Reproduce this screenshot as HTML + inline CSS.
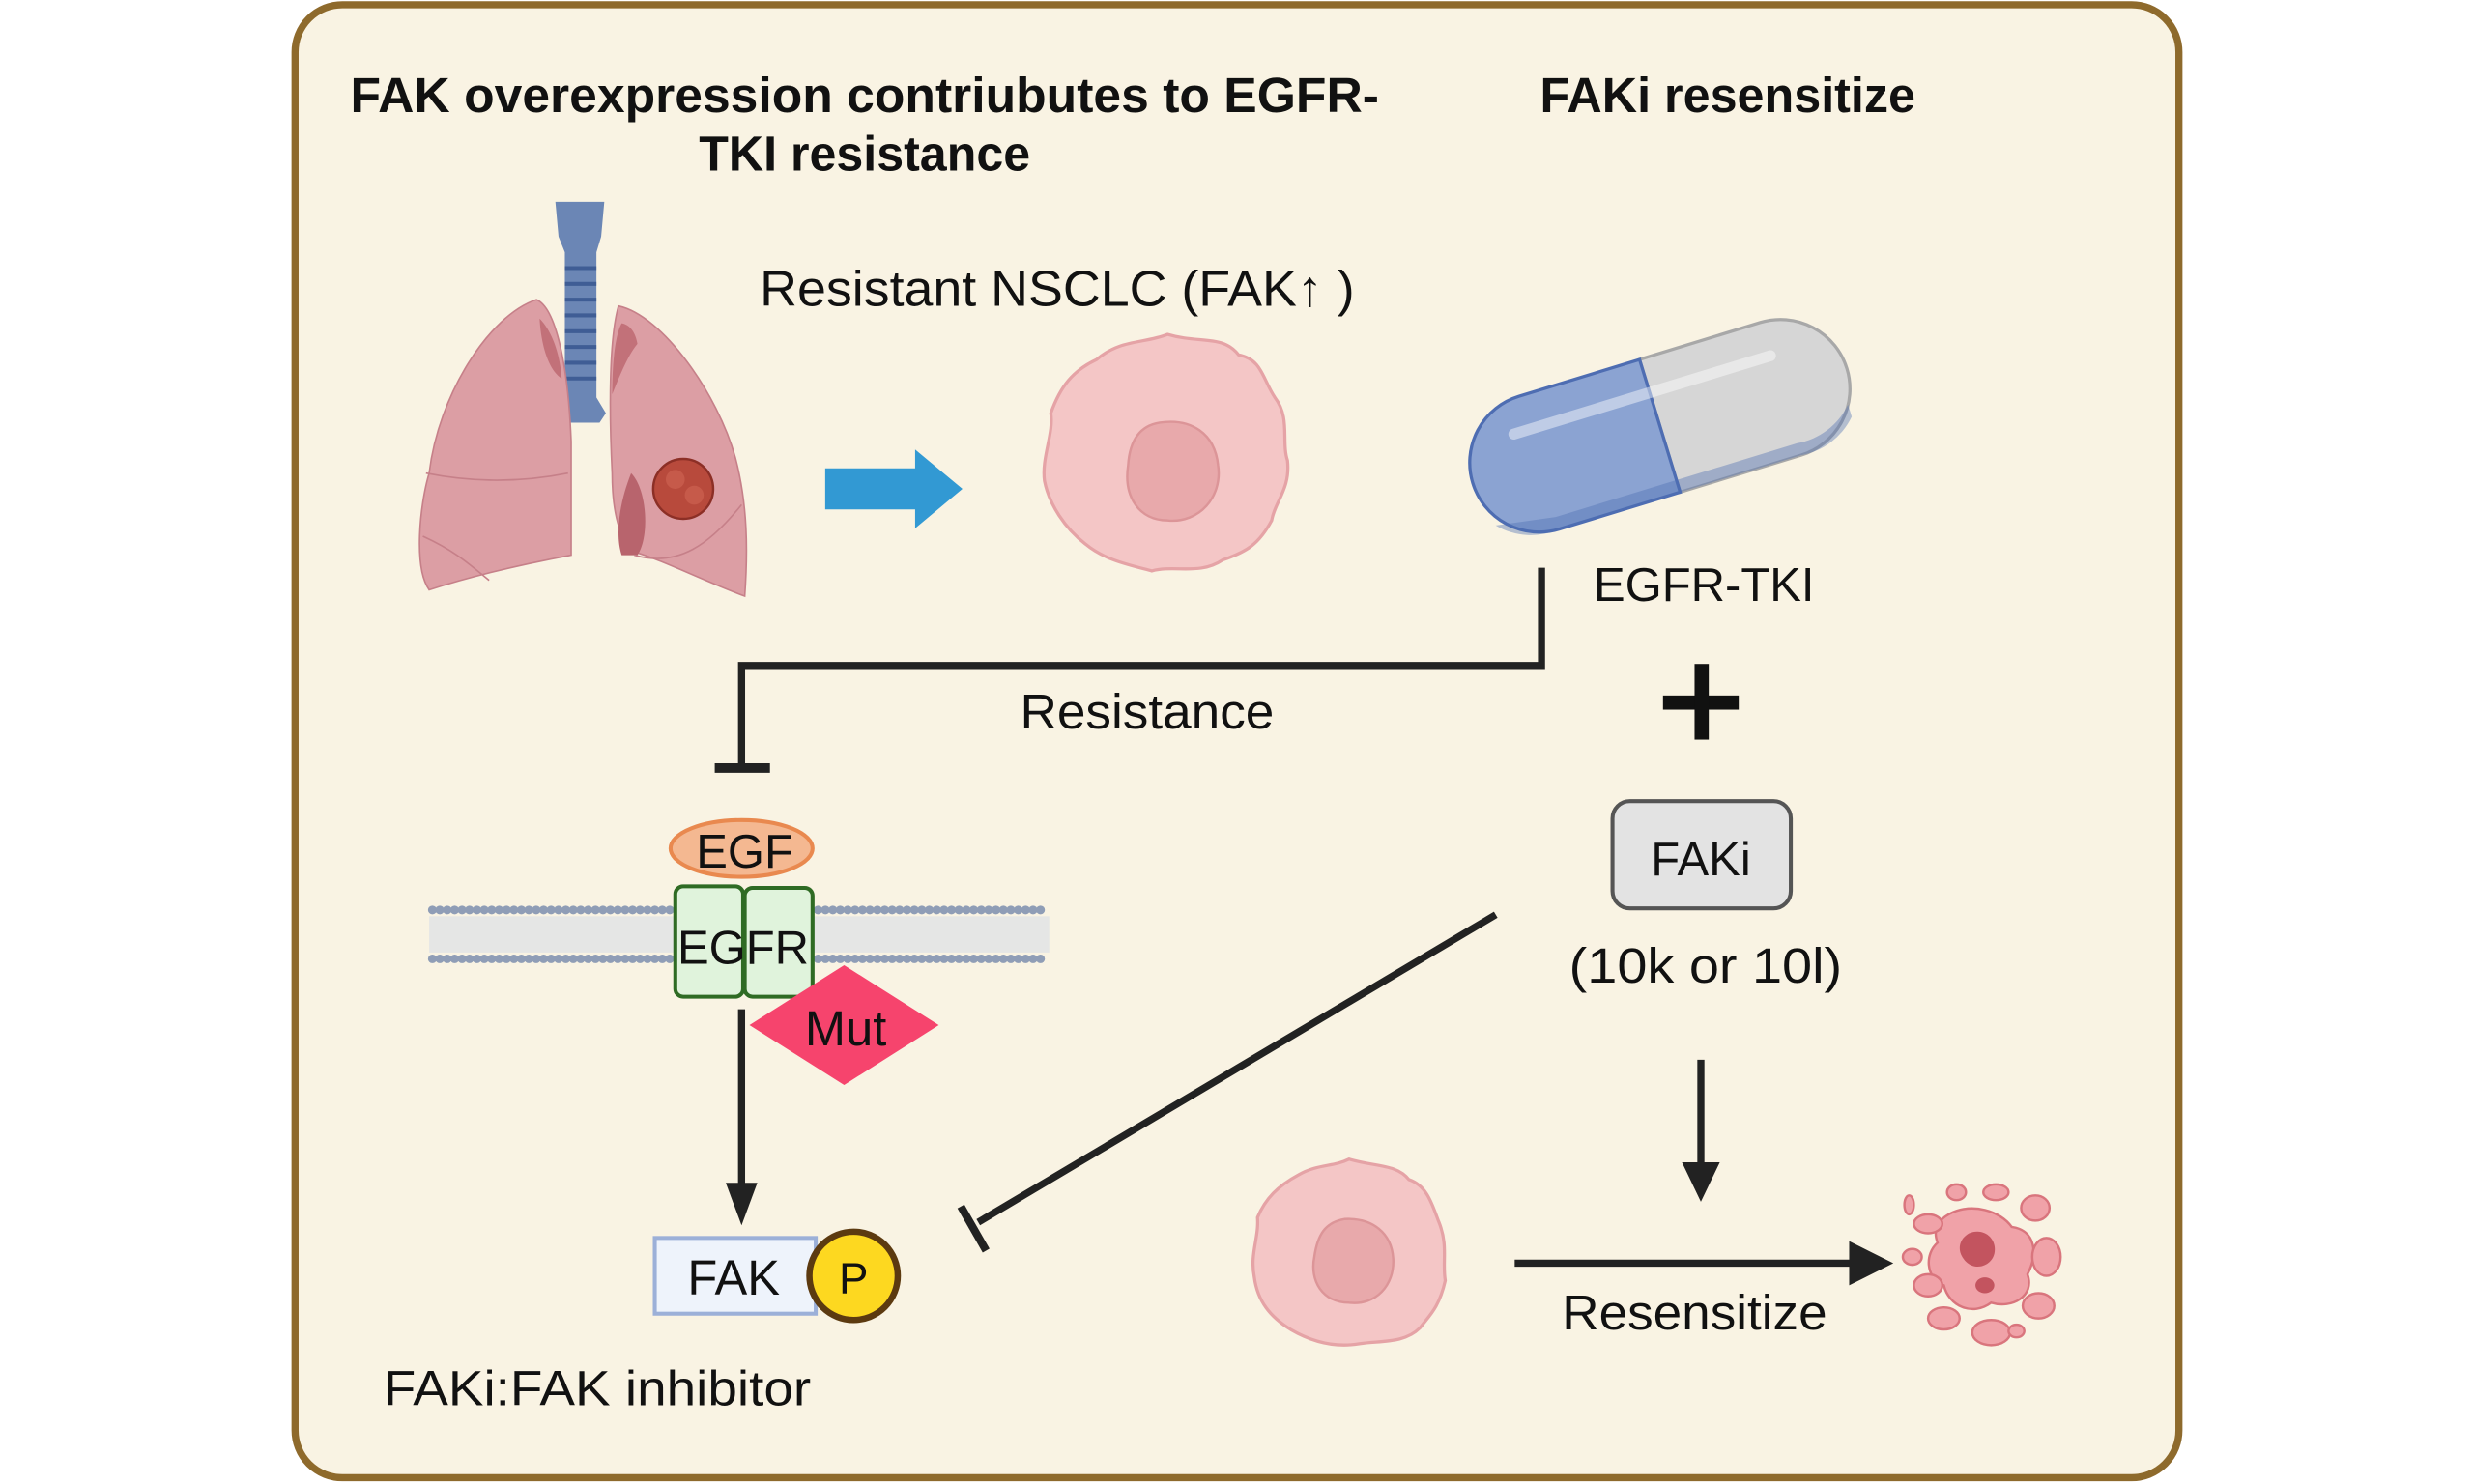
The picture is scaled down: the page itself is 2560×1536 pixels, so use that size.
<!DOCTYPE html>
<html><head><meta charset="utf-8"><style>
html,body{margin:0;padding:0;background:#fff;}
svg{display:block;}
text{font-family:"Liberation Sans",sans-serif;fill:#111;}
</style></head><body>
<svg width="2560" height="1536" viewBox="0 0 1568 941" preserveAspectRatio="none" xmlns="http://www.w3.org/2000/svg">
<rect x="0" y="0" width="1568" height="941" fill="#fff"/>
<rect x="187" y="3" width="1194" height="934" rx="30" fill="#f9f3e3" stroke="#8e6a2c" stroke-width="4.5"/>

<text x="548" y="71" font-size="31" font-weight="bold" text-anchor="middle" textLength="652" lengthAdjust="spacingAndGlyphs">FAK overexpression contriubutes to  EGFR-</text>
<text x="548" y="108" font-size="31" font-weight="bold" text-anchor="middle" textLength="210" lengthAdjust="spacingAndGlyphs">TKI resistance</text>
<text x="1095" y="71" font-size="31" font-weight="bold" text-anchor="middle" textLength="238" lengthAdjust="spacingAndGlyphs">FAKi resensitize</text>

<!-- lungs -->
<g>
<path d="M352,128 L383,128 L381,150 L378,160 L378,252 L384,262 L380,268 L356,268 L352,262 L358,252 L358,160 L354,150 Z" fill="#6b86b5"/>
<g stroke="#3f5d95" stroke-width="2.5">
<line x1="358" y1="170" x2="378" y2="170"/><line x1="358" y1="180" x2="378" y2="180"/><line x1="358" y1="190" x2="378" y2="190"/><line x1="358" y1="200" x2="378" y2="200"/><line x1="358" y1="210" x2="378" y2="210"/><line x1="358" y1="220" x2="378" y2="220"/><line x1="358" y1="230" x2="378" y2="230"/><line x1="358" y1="240" x2="378" y2="240"/>
</g>
<path d="M340,190 C352,195 360,230 362,280 L362,352 C330,358 300,365 272,374 C262,360 266,320 272,300 C278,250 310,200 340,190 Z" fill="#dc9ea4" stroke="#c68089" stroke-width="1"/>
<path d="M342,202 C350,210 355,225 356,240 C348,235 343,220 342,202Z" fill="#c27179"/>
<path d="M270,300 C300,306 330,306 360,300 M268,340 C290,350 300,360 310,368" fill="none" stroke="#c68089" stroke-width="1"/>
<path d="M392,194 C420,200 455,250 466,290 C474,320 474,350 472,378 C445,368 420,355 402,350 C395,345 388,330 388,300 C386,260 386,215 392,194 Z" fill="#dc9ea4" stroke="#c68089" stroke-width="1"/>
<path d="M394,205 C400,206 403,212 404,218 C398,225 392,240 388,250 C388,230 390,212 394,205Z" fill="#c27179"/>
<path d="M400,300 C410,310 412,340 404,352 L394,352 C390,340 392,320 400,300Z" fill="#b8646d"/>
<path d="M470,320 C450,345 430,360 402,352" fill="none" stroke="#c68089" stroke-width="1"/>
<circle cx="433" cy="310" r="19" fill="#b84a3c" stroke="#8c2f26" stroke-width="1.5"/>
<circle cx="428" cy="304" r="6" fill="#c65a4a"/><circle cx="440" cy="314" r="6" fill="#c65a4a"/>
</g>

<!-- blue arrow -->
<path d="M523,297 L580,297 L580,285 L610,310 L580,335 L580,323 L523,323 Z" fill="#3299d3"/>

<!-- cell 1 -->
<g>
<path d="M740,212 C760,218 775,212 785,225 C800,228 800,240 808,252 C818,265 812,280 816,292 C818,310 808,318 806,330 C798,345 790,350 775,355 C760,365 745,358 730,362 C715,358 700,355 688,345 C675,335 665,320 662,305 C660,290 668,275 666,262 C672,245 680,235 695,228 C710,215 725,218 740,212Z" fill="#f4c6c6" stroke="#e5a3a6" stroke-width="2"/>
<path d="M735,268 C755,265 770,275 772,295 C775,315 760,332 740,330 C722,330 712,315 715,295 C716,280 722,270 735,268Z" fill="#e8a9ab" stroke="#dc9598" stroke-width="1.5"/>
</g>

<text x="670" y="194" font-size="32" text-anchor="middle" textLength="377" lengthAdjust="spacingAndGlyphs">Resistant NSCLC (FAK↑ )</text>

<!-- pill -->
<g transform="translate(1052,270) rotate(-17)">
<path d="M0,-44 L80,-44 A44,44 0 0 1 80,44 L0,44 Z" fill="#d6d6d6" stroke="#a8a8a8" stroke-width="2"/>
<path d="M0,-44 L-80,-44 A44,44 0 0 0 -80,44 L0,44 Z" fill="#8ba3d2" stroke="#4e6db2" stroke-width="2"/>
<path d="M-80,36 L80,36 A44,44 0 0 0 118,22 L118,30 A44,44 0 0 1 80,44 L-80,44 A44,44 0 0 1 -118,30 Z" fill="#4e6db2" opacity="0.4"/>
<line x1="-90" y1="-22" x2="80" y2="-22" stroke="#fff" stroke-opacity="0.45" stroke-width="7" stroke-linecap="round"/>
</g>

<text x="1080" y="381" font-size="30" text-anchor="middle">EGFR-TKI</text>

<!-- resistance line -->
<path d="M977,360 L977,422 L470,422 L470,485" fill="none" stroke="#222" stroke-width="4.5"/>
<line x1="453" y1="487" x2="488" y2="487" stroke="#222" stroke-width="6"/>
<text x="727" y="462" font-size="31" text-anchor="middle" textLength="161" lengthAdjust="spacingAndGlyphs">Resistance</text>

<!-- plus -->
<rect x="1054" y="441" width="48" height="9" fill="#111"/>
<rect x="1074" y="421" width="9" height="48" fill="#111"/>

<!-- FAKi box -->
<rect x="1022" y="508" width="113" height="68" rx="11" fill="#e3e3e3" stroke="#555" stroke-width="2.5"/>
<text x="1078" y="555" font-size="30" text-anchor="middle">FAKi</text>
<text x="1081" y="623" font-size="31" text-anchor="middle" textLength="173" lengthAdjust="spacingAndGlyphs">(10k or 10l)</text>

<!-- membrane -->
<g>
<rect x="272" y="581" width="393" height="23" fill="#c9d3e8" opacity="0.4"/>
<line x1="274" y1="577" x2="664" y2="577" stroke="#8f9db6" stroke-width="5.5" stroke-dasharray="0.1,4.6" stroke-linecap="round"/>
<line x1="274" y1="608" x2="664" y2="608" stroke="#8f9db6" stroke-width="5.5" stroke-dasharray="0.1,4.6" stroke-linecap="round"/>
</g>
<rect x="428" y="562" width="43" height="70" rx="5" fill="#e0f3dc" stroke="#2f6b24" stroke-width="2.5"/>
<rect x="472" y="563" width="43" height="69" rx="5" fill="#e0f3dc" stroke="#2f6b24" stroke-width="2.5"/>
<ellipse cx="470" cy="538" rx="45" ry="18" fill="#f4b891" stroke="#e9894f" stroke-width="2.5"/>
<text x="472" y="550" font-size="30" text-anchor="middle">EGF</text>
<text x="471" y="611" font-size="30" text-anchor="middle">EGFR</text>
<path d="M535,612 L595,650 L535,688 L475,650 Z" fill="#f6446d"/>
<text x="536" y="663" font-size="31" text-anchor="middle">Mut</text>

<!-- arrow down to FAK -->
<line x1="470" y1="640" x2="470" y2="755" stroke="#222" stroke-width="4.5"/>
<path d="M460,750 L480,750 L470,777 Z" fill="#222"/>
<rect x="415" y="785" width="102" height="48" fill="#eef3fb" stroke="#9cb0d8" stroke-width="2.5"/>
<text x="465" y="821" font-size="31" text-anchor="middle">FAK</text>
<circle cx="541" cy="809" r="28" fill="#fdd820" stroke="#5c3a10" stroke-width="4"/>
<text x="541" y="820" font-size="28" text-anchor="middle">P</text>
<text x="243" y="891" font-size="31" textLength="271" lengthAdjust="spacingAndGlyphs">FAKi:FAK inhibitor</text>

<!-- inhibition line -->
<line x1="948" y1="580" x2="620" y2="775" stroke="#222" stroke-width="4.5"/>
<line x1="609" y1="765" x2="625" y2="793" stroke="#222" stroke-width="5"/>

<!-- down arrow -->
<line x1="1078" y1="672" x2="1078" y2="742" stroke="#222" stroke-width="4.5"/>
<path d="M1066,737 L1090,737 L1078,762 Z" fill="#222"/>

<!-- cell 2 -->
<g>
<path d="M855,735 C872,740 885,738 893,748 C905,752 908,765 912,775 C918,790 914,800 916,812 C912,830 905,835 900,842 C890,852 875,850 862,852 C845,855 830,850 818,843 C805,835 797,825 795,810 C792,795 798,785 797,772 C802,760 810,752 823,745 C835,738 845,740 855,735Z" fill="#f4c6c6" stroke="#e5a3a6" stroke-width="2"/>
<path d="M852,773 C870,772 882,782 883,798 C884,815 872,828 855,826 C838,826 830,812 833,797 C835,783 840,775 852,773Z" fill="#e8a9ab" stroke="#dc9598" stroke-width="1.5"/>
</g>

<!-- resensitize arrow -->
<line x1="960" y1="801" x2="1178" y2="801" stroke="#222" stroke-width="4.5"/>
<path d="M1172,787 L1200,801 L1172,815 Z" fill="#222"/>
<text x="1074" y="843" font-size="31" text-anchor="middle" textLength="168" lengthAdjust="spacingAndGlyphs">Resensitize</text>

<!-- dead cell fragments -->
<g fill="#f0a2a8" stroke="#d9757d" stroke-width="1.5">
<path d="M1235,770 C1250,762 1268,768 1275,778 C1290,780 1292,795 1285,808 C1290,822 1275,830 1262,826 C1250,835 1235,828 1232,815 C1220,810 1220,795 1228,788 C1225,780 1228,774 1235,770Z"/>
<ellipse cx="1222" cy="776" rx="9" ry="6"/>
<ellipse cx="1212" cy="797" rx="6" ry="5"/>
<ellipse cx="1222" cy="815" rx="9" ry="7"/>
<ellipse cx="1232" cy="836" rx="10" ry="7"/>
<ellipse cx="1262" cy="845" rx="12" ry="8"/>
<ellipse cx="1292" cy="828" rx="10" ry="8"/>
<ellipse cx="1297" cy="797" rx="9" ry="12"/>
<ellipse cx="1290" cy="766" rx="9" ry="8"/>
<ellipse cx="1265" cy="756" rx="8" ry="5"/>
<ellipse cx="1240" cy="756" rx="6" ry="5"/>
<ellipse cx="1210" cy="764" rx="3" ry="6"/>
<ellipse cx="1278" cy="844" rx="5" ry="4"/>
</g>
<path d="M1248,782 C1258,778 1266,786 1264,795 C1262,803 1252,806 1246,800 C1240,794 1241,786 1248,782Z" fill="#c3545f"/>
<ellipse cx="1258" cy="815" rx="6" ry="5" fill="#c3545f"/>
</svg>
</body></html>
